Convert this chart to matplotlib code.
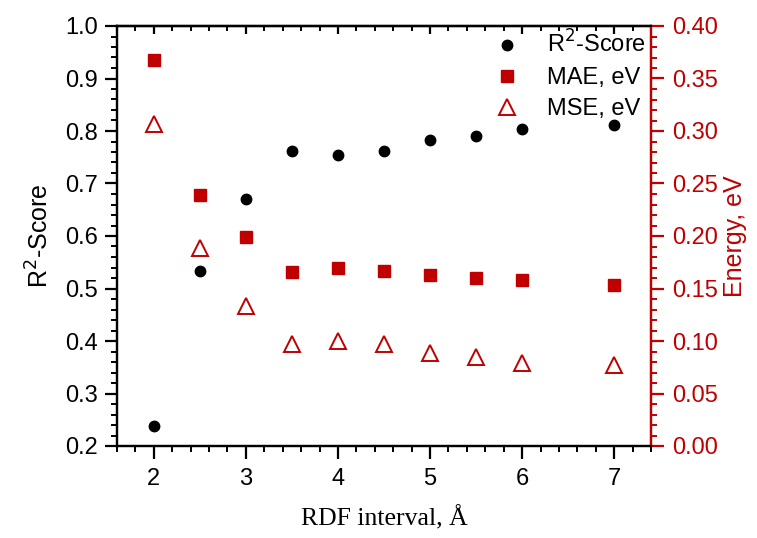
import matplotlib.pyplot as plt
from matplotlib.ticker import MultipleLocator

# RDF interval (Angstrom)
interval = [2.0, 2.5, 3.0, 3.5, 4.0, 4.5, 5.0, 5.5, 6.0, 7.0]
r2_score = [0.239, 0.534, 0.671, 0.762, 0.754, 0.762, 0.782, 0.790, 0.804, 0.811]
mae_ev = [0.368, 0.239, 0.199, 0.166, 0.170, 0.167, 0.163, 0.160, 0.158, 0.153]
mse_ev = [0.307, 0.189, 0.133, 0.097, 0.100, 0.097, 0.089, 0.085, 0.079, 0.077]

red = '#C00000'
plt.rcParams['font.family'] = ['Liberation Sans', 'DejaVu Sans']

fig = plt.figure(figsize=(7.57, 5.38), dpi=100)
ax = fig.add_axes([117 / 757, 1 - 446 / 538, (651 - 117) / 757, (446 - 26) / 538])
ax2 = ax.twinx()

h1, = ax.plot(interval, r2_score, 'o', color='black', ms=7.5, label='R$^2$-Score')
h2, = ax2.plot(interval, mae_ev, 's', color=red, ms=8, label='MAE, eV')
h3, = ax2.plot(interval, mse_ev, '^', color=red, mfc='none', mew=1.4, ms=11, label='MSE, eV')

ax.set_xlim(1.6, 7.4)
ax.set_ylim(0.2, 1.0)
ax2.set_ylim(0.0, 0.4)

ax.xaxis.set_major_locator(MultipleLocator(1))
ax.xaxis.set_minor_locator(MultipleLocator(0.2))
ax.yaxis.set_major_locator(MultipleLocator(0.1))
ax.yaxis.set_minor_locator(MultipleLocator(0.02))
ax2.yaxis.set_major_locator(MultipleLocator(0.05))
ax2.yaxis.set_minor_locator(MultipleLocator(0.01))
ax.yaxis.set_major_formatter(lambda v, p: f'{v:.1f}')
ax2.yaxis.set_major_formatter(lambda v, p: f'{v:.2f}')

for a in (ax, ax2):
    for s in a.spines.values():
        s.set_linewidth(1.6)
ax2.spines['right'].set_color(red)

ax.tick_params(axis='both', which='major', labelsize=17, width=1.6, length=9, pad=5, direction='out')
ax.tick_params(axis='both', which='minor', width=1.4, length=4.5, direction='out')
ax.tick_params(axis='x', which='major', pad=7)
ax.tick_params(axis='x', which='both', top=False)
ax2.tick_params(axis='y', which='major', labelsize=17, width=1.6, length=9, pad=6, colors=red)
ax2.tick_params(axis='y', which='minor', width=1.4, length=4.5, colors=red)

# top axis ticks point inward
top = ax.secondary_xaxis('top')
top.xaxis.set_major_locator(MultipleLocator(1))
top.xaxis.set_minor_locator(MultipleLocator(0.2))
top.tick_params(axis='x', which='major', direction='in', length=6, width=1.6, labeltop=False)
top.tick_params(axis='x', which='minor', direction='in', length=3.5, width=1.4)
top.spines['top'].set_linewidth(1.6)

ax.set_xlabel('RDF interval, Å', family='Liberation Serif', fontsize=18.5, labelpad=11)
ax.set_ylabel('R$^2$-Score', fontsize=18, labelpad=8)
ax2.set_ylabel('Energy, eV', fontsize=18, color=red, labelpad=4)

ax2.legend(handles=[h1, h2, h3], loc='upper right', frameon=False, fontsize=17,
           borderaxespad=0.1, handletextpad=1.0, labelspacing=0.38, handlelength=1.4,
           borderpad=0.1)

fig.savefig('out.png', dpi=100)
